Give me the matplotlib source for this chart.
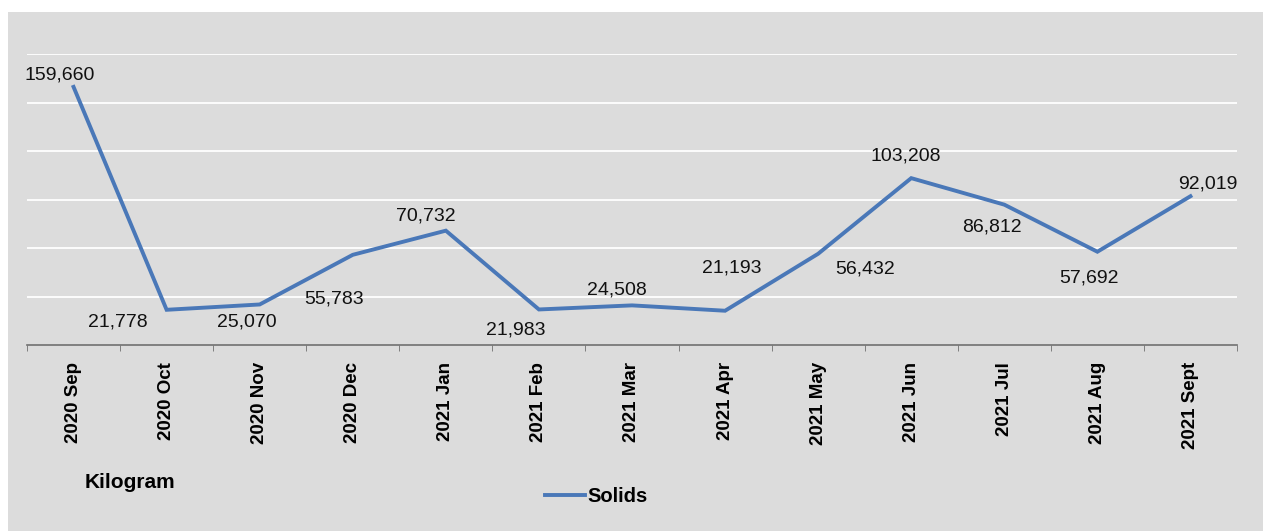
import matplotlib.pyplot as plt
from matplotlib.patches import Rectangle

plt.rcParams['font.family'] = ['Liberation Sans', 'DejaVu Sans']

# data
months = ['2020 Sep', '2020 Oct', '2020 Nov', '2020 Dec', '2021 Jan', '2021 Feb', '2021 Mar',
          '2021 Apr', '2021 May', '2021 Jun', '2021 Jul', '2021 Aug', '2021 Sept']
solids = [159660, 21778, 25070, 55783, 70732, 21983, 24508,
          21193, 56432, 103208, 86812, 57692, 92019]

# label offsets in pixels (dx, dy) relative to the point
offsets = [(-14, 12), (-49, -12), (-13, -18), (-19, -44), (-20, 15), (-23, -21), (-15, 15),
           (7, 43), (47, -15), (-5, 22), (-12, -22), (-8, -26), (17, 12)]

bg = '#dcdcdc'
fig = plt.figure(figsize=(12.63, 5.31), dpi=100, facecolor='white')
fig.patches.append(Rectangle((0.006, 0), 0.994, 1 - 12 / 531, transform=fig.transFigure,
                             facecolor=bg, edgecolor='none', zorder=-10))

ax = fig.add_axes([27 / 1263, 1 - 345 / 531, (1237 - 27) / 1263, (345 - 54) / 531])
ax.set_facecolor(bg)
x = list(range(len(months)))
line, = ax.plot(x, solids, color='#4a78b8', linewidth=2.8, label='Solids', solid_joinstyle='miter')

for i, v in enumerate(solids):
    dx, dy = offsets[i]
    ax.annotate(f'{v:,}', (i, v), xytext=(dx, dy), textcoords='offset pixels',
                ha='center', va='center', fontsize=14, color='#111111')

ax.set_xlim(-0.5, len(months) - 0.5)
ax.set_ylim(0, 180000)
ax.set_yticks([30000, 60000, 90000, 120000, 150000, 180000])
ax.yaxis.grid(True, color='white', linewidth=1.3)
ax.set_axisbelow(True)
ax.tick_params(axis='y', left=False, labelleft=False)
for s in ['top', 'right', 'left']:
    ax.spines[s].set_visible(False)
ax.spines['bottom'].set_color('#707070')
ax.spines['bottom'].set_linewidth(1.2)

ax.set_xticks(x)
ax.set_xticklabels(months, rotation=90, fontsize=13.5, fontweight='bold')
ax.tick_params(axis='x', which='major', length=0, pad=12)
ax.set_xticks([i - 0.5 for i in range(len(months) + 1)], minor=True)
ax.tick_params(axis='x', which='minor', length=4, color='#707070', direction='out')

fig.text(85 / 1263, 1 - 483 / 531, 'Kilogram', fontsize=15, fontweight='bold', va='center', ha='left')
fig.legend(handles=[line], loc='center', bbox_to_anchor=(596 / 1263, 1 - 497 / 531), frameon=False,
           prop={'weight': 'bold', 'size': 14.5}, handlelength=2.0, handletextpad=0.1)

fig.savefig('out.png', dpi=100, facecolor='white')
